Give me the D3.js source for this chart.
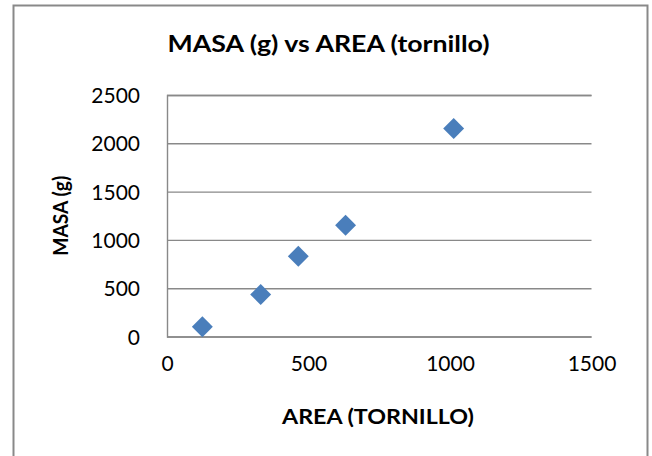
<!DOCTYPE html>
<html>
<head>
<meta charset="utf-8">
<script src="https://cdn.jsdelivr.net/npm/d3@7"></script>
<style>
  html, body { margin: 0; padding: 0; background: #fff; }
  svg { display: block; font-family: Lato, "Noto Sans", sans-serif; }
</style>
</head>
<body>
<svg id="chart" width="652" height="456"></svg>
<script>
// Bolt measurements: area vs mass
const area = [125, 331, 464, 631, 1013];
const masa = [100, 435, 830, 1152, 2153];
const xTicks = [0, 500, 1000, 1500];
const yTicks = [0, 500, 1000, 1500, 2000, 2500];
const titleText = "MASA (g) vs AREA (tornillo)";
const xTitle = "AREA (TORNILLO)";
const yTitle = "MASA (g)";

const svg = d3.select("#chart");
const plot = { left: 167, right: 591.5, top: 95, bottom: 336.5 };
const grey = "#898989";

// chart frame
svg.append("rect")
  .attr("x", 13.5).attr("y", 5.5)
  .attr("width", 634).attr("height", 470)
  .attr("fill", "#fff").attr("stroke", grey).attr("stroke-width", 2);

const x = d3.scaleLinear().domain([0, 1500]).range([plot.left, plot.right]);
const y = d3.scaleLinear().domain([0, 2500]).range([plot.bottom, plot.top]);

// horizontal gridlines and value labels
const yAxis = d3.axisLeft(y).tickValues(yTicks)
  .tickSize(-(plot.right - plot.left)).tickPadding(27).tickFormat(d3.format("d"));
const gy = svg.append("g").attr("transform", `translate(${plot.left},0)`).call(yAxis);
gy.select(".domain").attr("stroke", grey).attr("stroke-width", 1.4);
gy.selectAll(".tick line").attr("stroke", grey).attr("stroke-width", 1.4);
gy.selectAll(".tick text")
  .attr("font-size", 21).attr("fill", "#000")
  .attr("font-family", "Lato, sans-serif").attr("dy", "0.36em");

// x axis labels
const xAxis = d3.axisBottom(x).tickValues(xTicks).tickSize(0).tickPadding(20)
  .tickFormat(d3.format("d"));
const gx = svg.append("g").attr("transform", `translate(0,${plot.bottom})`).call(xAxis);
gx.select(".domain").remove();
gx.selectAll(".tick text")
  .attr("font-size", 21).attr("fill", "#000")
  .attr("font-family", "Lato, sans-serif");

// diamond markers
const side = 14.8;
svg.append("g").selectAll("rect")
  .data(area.map((a, i) => ({ a, m: masa[i] })))
  .join("rect")
  .attr("x", -side / 2).attr("y", -side / 2)
  .attr("width", side).attr("height", side)
  .attr("transform", d => `translate(${x(d.a)},${y(d.m)}) rotate(45)`)
  .attr("fill", "#4a7ebb");

// titles
svg.append("text")
  .attr("x", 328.5).attr("y", 52)
  .attr("text-anchor", "middle")
  .attr("font-weight", "bold").attr("font-size", 22)
  .attr("textLength", 322).attr("lengthAdjust", "spacingAndGlyphs")
  .text(titleText);

svg.append("text")
  .attr("x", 378).attr("y", 424)
  .attr("text-anchor", "middle")
  .attr("font-weight", "bold").attr("font-size", 20)
  .attr("textLength", 192).attr("lengthAdjust", "spacingAndGlyphs")
  .text(xTitle);

svg.append("text")
  .attr("transform", `translate(68,${(plot.top + plot.bottom) / 2}) rotate(-90)`)
  .attr("text-anchor", "middle")
  .attr("font-weight", "bold").attr("font-size", 21)
  .attr("textLength", 80).attr("lengthAdjust", "spacingAndGlyphs")
  .text(yTitle);
</script>
</body>
</html>
